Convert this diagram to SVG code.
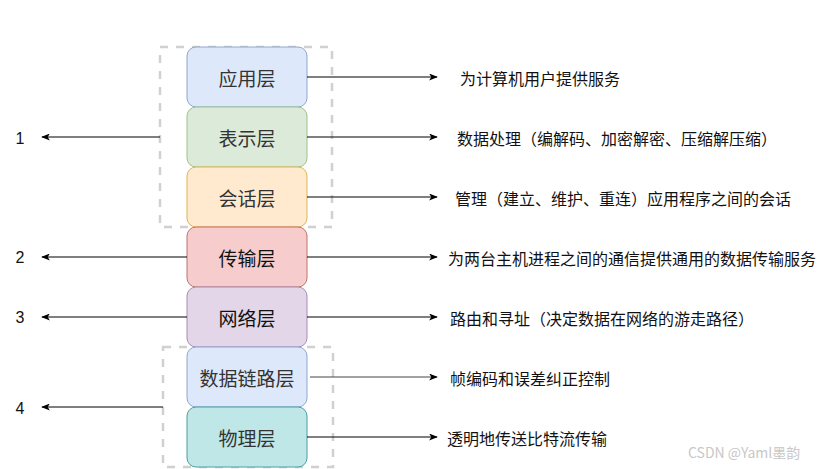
<svg xmlns="http://www.w3.org/2000/svg" width="818" height="469" viewBox="0 0 818 469">
<defs>
<marker id="ah" viewBox="0 0 10 8" refX="9" refY="4" markerWidth="9" markerHeight="7" markerUnits="userSpaceOnUse" orient="auto">
<path d="M0,0 L10,4 L0,8 L2.5,4 Z" fill="#000"/>
</marker>
</defs>
<style>
.layer rect{stroke-width:1}
.lt{font-family:"Noto Sans CJK SC",sans-serif;font-size:19px;fill:#333;text-anchor:middle;dominant-baseline:central}
.lt.dk{fill:#111}
.desc{font-family:"Noto Sans CJK SC",sans-serif;font-size:16px;fill:#111;dominant-baseline:central}
.num{font-family:"Liberation Sans",Arial,sans-serif;font-size:16px;fill:#111;text-anchor:middle;dominant-baseline:central}
.grp{fill:none;stroke:#d0d0d0;stroke-width:2.5;stroke-dasharray:8 8}
.conn line{stroke:#000;stroke-width:1;marker-end:url(#ah)}
</style>
<rect width="818" height="469" fill="#fff"/>
<g id="group-upper"><rect class="grp" x="160" y="47" width="172" height="180"/></g>
<g id="group-lower"><rect class="grp" x="163" y="347" width="170" height="120"/></g>
<g id="app" class="layer"><rect x="187" y="47" width="120" height="60" rx="9" fill="#dde8fa" stroke="#8ea6cc"/><text class="lt" x="247" y="77">应用层</text></g>
<g id="pres" class="layer"><rect x="187" y="107" width="120" height="60" rx="9" fill="#dcead9" stroke="#9cc285"/><text class="lt" x="247" y="137">表示层</text></g>
<g id="sess" class="layer"><rect x="187" y="167" width="120" height="60" rx="9" fill="#ffeacf" stroke="#e0b454"/><text class="lt" x="247" y="197">会话层</text></g>
<g id="trans" class="layer"><rect x="187" y="227" width="120" height="60" rx="9" fill="#f6cdcc" stroke="#c0706c"/><text class="lt dk" x="247" y="257">传输层</text></g>
<g id="net" class="layer"><rect x="187" y="287" width="120" height="60" rx="9" fill="#e3d6e8" stroke="#a88bb6"/><text class="lt dk" x="247" y="317">网络层</text></g>
<g id="link" class="layer"><rect x="187" y="347" width="120" height="60" rx="9" fill="#dde8fa" stroke="#8ea6cc"/><text class="lt" x="247" y="377">数据链路层</text></g>
<g id="phys" class="layer"><rect x="187" y="407" width="120" height="60" rx="9" fill="#bfe7e8" stroke="#4a9ea3"/><text class="lt" x="247" y="437">物理层</text></g>
<g id="connectors" class="conn">
<line x1="307" y1="77" x2="437" y2="77"/>
<line x1="307" y1="137" x2="437" y2="137"/>
<line x1="307" y1="197" x2="437" y2="197"/>
<line x1="307" y1="257" x2="437" y2="257"/>
<line x1="307" y1="317" x2="437" y2="317"/>
<line x1="310" y1="377" x2="437" y2="377" style="stroke:#444"/>
<line x1="307" y1="437" x2="437" y2="437"/>
<line x1="160" y1="137" x2="42" y2="137"/>
<line x1="187" y1="257" x2="42" y2="257"/>
<line x1="187" y1="317" x2="42" y2="317"/>
<line x1="163" y1="407" x2="42" y2="407"/>
</g>
<g id="descs">
<text class="desc" x="460" y="78">为计算机用户提供服务</text>
<text class="desc" x="457" y="138">数据处理（编解码、加密解密、压缩解压缩）</text>
<text class="desc" x="455" y="198">管理（建立、维护、重连）应用程序之间的会话</text>
<text class="desc" x="448" y="258">为两台主机进程之间的通信提供通用的数据传输服务</text>
<text class="desc" x="450" y="318">路由和寻址（决定数据在网络的游走路径）</text>
<text class="desc" x="450" y="378">帧编码和误差纠正控制</text>
<text class="desc" x="447" y="438">透明地传送比特流传输</text>
</g>
<g id="nums">
<text class="num" x="20" y="138">1</text>
<text class="num" x="20" y="257">2</text>
<text class="num" x="20" y="317">3</text>
<text class="num" x="20" y="408">4</text>
</g>
<text x="688" y="452" font-family="'Noto Sans CJK SC',sans-serif" font-size="14" fill="#c8c8c8" dominant-baseline="central">CSDN @Yaml墨韵</text>
</svg>
